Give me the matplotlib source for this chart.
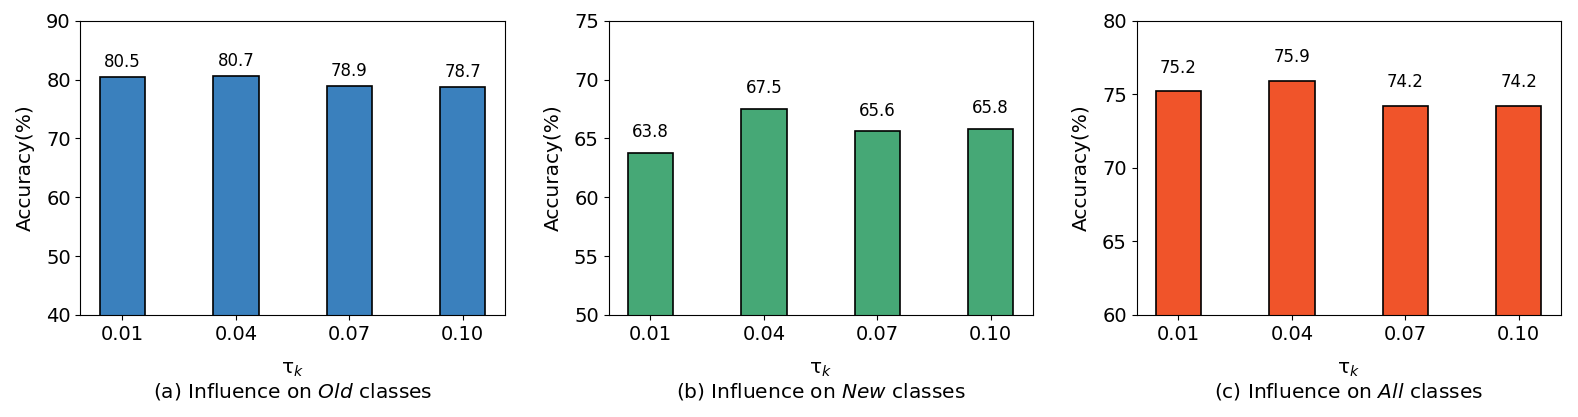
import matplotlib
matplotlib.use("Agg")
import matplotlib.pyplot as plt
import numpy as np

taus = ["0.01", "0.04", "0.07", "0.10"]
old_acc = [80.5, 80.7, 78.9, 78.7]
new_acc = [63.8, 67.5, 65.6, 65.8]
all_acc = [75.2, 75.9, 74.2, 74.2]

panels = [
    (old_acc, "#3A80BD", (40, 90), 10, r"(a) Influence on $\it{Old}$ classes"),
    (new_acc, "#46A876", (50, 75), 5, r"(b) Influence on $\it{New}$ classes"),
    (all_acc, "#F0542A", (60, 80), 5, r"(c) Influence on $\it{All}$ classes"),
]

fig, axes = plt.subplots(1, 3, figsize=(15.78, 4.17), dpi=100)
fig.subplots_adjust(left=0.051, right=0.989, top=0.95, bottom=0.245, wspace=0.245)

x = np.arange(len(taus))
for ax, (vals, color, ylim, step, caption) in zip(axes, panels):
    bars = ax.bar(x, vals, width=0.4, color=color, edgecolor="black", linewidth=1.2)
    for b, v in zip(bars, vals):
        ax.text(b.get_x() + b.get_width() / 2, v + 1.0, f"{v:.1f}",
                ha="center", va="bottom", fontsize=12)
    ax.set_ylim(*ylim)
    ax.set_yticks(np.arange(ylim[0], ylim[1] + 0.1, step))
    ax.set_xticks(x)
    ax.set_xticklabels(taus)
    ax.tick_params(labelsize=14)
    ax.set_ylabel("Accuracy(%)", fontsize=14.5, labelpad=8)
    ax.set_xlabel("τ$_k$\n" + caption, fontsize=14.5, linespacing=1.1, labelpad=12)

plt.savefig("out.png")
